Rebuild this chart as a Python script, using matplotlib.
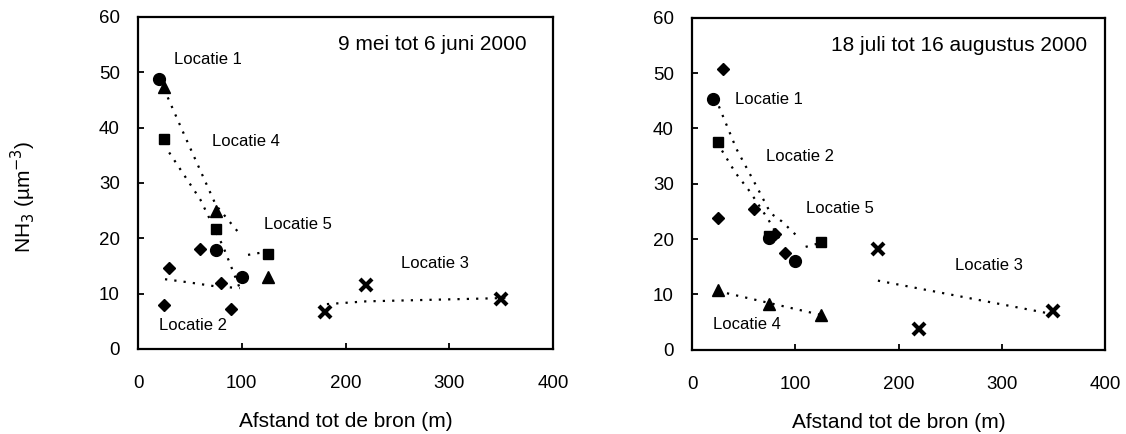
import matplotlib.pyplot as plt

plt.rcParams['font.family'] = ['Liberation Sans', 'DejaVu Sans']

# ---- periode 1: 9 mei tot 6 juni 2000 ----
p1_circ_x = [20, 75, 100]
p1_circ_y = [48.7, 17.8, 13.0]
p1_tri_x = [25, 75, 125]
p1_tri_y = [47.3, 25.0, 13.0]
p1_sq_x = [25, 75, 125]
p1_sq_y = [38.0, 21.6, 17.2]
p1_dia_x = [30, 60, 80, 25, 90]
p1_dia_y = [14.6, 18.1, 12.0, 7.9, 7.3]
p1_x_x = [180, 220, 350]
p1_x_y = [6.6, 11.5, 9.1]

# trendlijnen (gestippeld)
p1_lines = [
    ([25, 45, 75, 97], [47.0, 38.5, 26.0, 21.0]),
    ([30, 60, 82, 98], [35.5, 27.0, 18.5, 11.0]),
    ([26, 50, 75, 98], [12.6, 12.0, 11.3, 11.0]),
    ([106, 125], [17.0, 17.6]),
    ([182, 220, 354], [8.1, 8.6, 9.2]),
]
p1_title = '9 mei tot 6 juni 2000'
p1_labels = [('Locatie 1', 35, 52.3), ('Locatie 4', 71, 37.5),
             ('Locatie 5', 121, 22.4), ('Locatie 3', 253, 15.4),
             ('Locatie 2', 20, 4.3)]

# ---- periode 2: 18 juli tot 16 augustus 2000 ----
p2_circ_x = [20, 75, 100]
p2_circ_y = [45.3, 20.2, 16.0]
p2_tri_x = [25, 75, 125]
p2_tri_y = [10.8, 8.3, 6.3]
p2_sq_x = [25, 75, 125]
p2_sq_y = [37.5, 20.5, 19.5]
p2_dia_x = [30, 25, 60, 80, 90]
p2_dia_y = [50.8, 23.9, 25.4, 20.9, 17.5]
p2_x_x = [180, 220, 350]
p2_x_y = [18.2, 3.7, 7.0]

p2_lines = [
    ([26, 43, 64, 76, 87, 102], [44.0, 36.3, 29.0, 24.7, 23.2, 20.5]),
    ([29, 42, 56, 74, 87], [36.0, 32.0, 28.6, 23.5, 19.3]),
    ([110, 124], [18.6, 19.3]),
    ([25, 125], [10.6, 6.3]),
    ([180, 345], [12.5, 6.6]),
]
p2_title = '18 juli tot 16 augustus 2000'
p2_labels = [('Locatie 1', 42, 45.2), ('Locatie 2', 72, 35.0),
             ('Locatie 5', 110, 25.5), ('Locatie 3', 255, 15.2),
             ('Locatie 4', 20, 4.5)]

xticks = [0, 100, 200, 300, 400]
yticks = [0, 10, 20, 30, 40, 50, 60]

fig = plt.figure(figsize=(11.26, 4.34), dpi=100)
ax1 = fig.add_axes([0.1226, 0.196, 0.3686, 0.765])
ax2 = fig.add_axes([0.6146, 0.194, 0.3668, 0.765])

panels = [
    (ax1, p1_circ_x, p1_circ_y, p1_tri_x, p1_tri_y, p1_sq_x, p1_sq_y,
     p1_dia_x, p1_dia_y, p1_x_x, p1_x_y, p1_lines, p1_title, p1_labels, 193),
    (ax2, p2_circ_x, p2_circ_y, p2_tri_x, p2_tri_y, p2_sq_x, p2_sq_y,
     p2_dia_x, p2_dia_y, p2_x_x, p2_x_y, p2_lines, p2_title, p2_labels, 135),
]

for (ax, cx, cy, tx, ty, sx, sy, dx, dy, xx, xy, lines, title, labels, tpos) in panels:
    for lx, ly in lines:
        ax.plot(lx, ly, color='black', lw=1.6, dashes=(1, 3.2))
    ax.plot(cx, cy, 'o', color='black', ms=8.5, ls='none')
    ax.plot(tx, ty, '^', color='black', ms=8, ls='none')
    ax.plot(sx, sy, 's', color='black', ms=7.5, ls='none')
    ax.plot(dx, dy, 'D', color='black', ms=6.5, ls='none')
    ax.plot(xx, xy, 'x', color='black', ms=8.5, mew=3, ls='none')
    ax.text(tpos, 55, title, fontsize=15, va='center', ha='left')
    for txt, lx, ly in labels:
        ax.text(lx, ly, txt, fontsize=12, va='center', ha='left')
    ax.set_xlim(0, 400)
    ax.set_ylim(0, 60)
    ax.set_xticks(xticks)
    ax.set_yticks(yticks)
    ax.tick_params(direction='in', length=4, width=1.3, labelsize=13.5)
    ax.tick_params(axis='x', pad=19)
    ax.tick_params(axis='y', pad=13)
    for sp in ax.spines.values():
        sp.set_linewidth(1.6)
    ax.set_xlabel('Afstand tot de bron (m)', fontsize=15, labelpad=14)

fig.text(23 / 1126, 1 - 197 / 434, 'NH$_3$ (µm$^{-3}$)', rotation=90,
         fontsize=15, ha='center', va='center')

fig.savefig('out.png', dpi=100)
